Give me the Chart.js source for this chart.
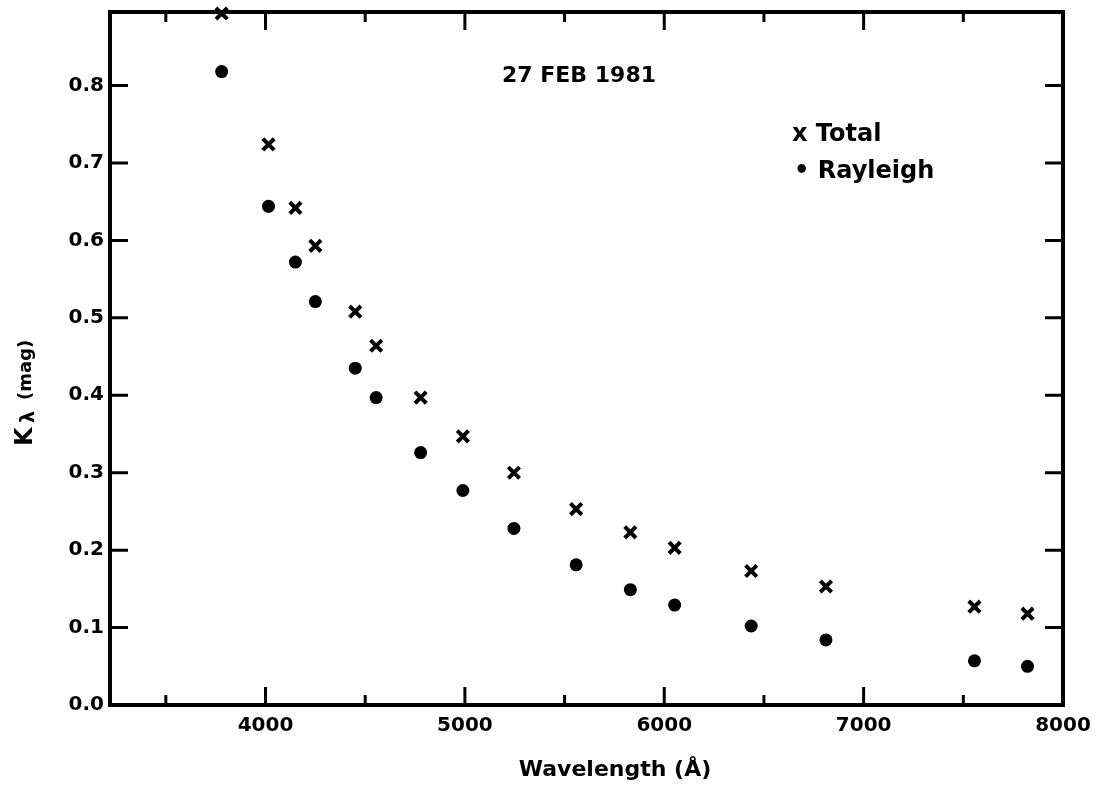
<!DOCTYPE html>
<html>
<head>
<meta charset="utf-8">
<title>Extinction coefficients - 27 Feb 1981</title>
<script src="https://cdn.jsdelivr.net/npm/chart.js@4.4.0/dist/chart.umd.min.js"></script>
<style>
  html, body { margin: 0; padding: 0; background: #fff; }
  #extinctionChart { display: block; }
</style>
</head>
<body>
<canvas id="extinctionChart" width="1097" height="789"></canvas>
<script>
// wavelengths in Angstrom
const wavelengths = [3780, 4015, 4150, 4250, 4450, 4555, 4778, 4990, 5246, 5558, 5830, 6052, 6436, 6811, 7556, 7822];
// extinction K (mag)
const totalK    = [0.893, 0.724, 0.642, 0.593, 0.508, 0.464, 0.397, 0.347, 0.300, 0.253, 0.223, 0.203, 0.173, 0.153, 0.127, 0.118];
const rayleighK = [0.818, 0.644, 0.572, 0.521, 0.435, 0.397, 0.326, 0.277, 0.228, 0.181, 0.149, 0.129, 0.102, 0.084, 0.057, 0.050];

const xTickValues  = [4000, 5000, 6000, 7000, 8000];
const xMinorTicks  = [3500, 4500, 5500, 6500, 7500];
const yTickValues  = [0, 0.1, 0.2, 0.3, 0.4, 0.5, 0.6, 0.7, 0.8];

const FONT = '"DejaVu Sans", sans-serif';

const toPoints = (ys) => wavelengths.map((w, i) => ({ x: w, y: ys[i] }));

// frame, inward ticks and the text labels drawn on top
const framePlugin = {
  id: 'frame',
  afterDraw(chart) {
    const { ctx, chartArea: a, scales: { x, y } } = chart;
    ctx.save();
    ctx.strokeStyle = '#000';
    ctx.fillStyle = '#000';

    ctx.lineWidth = 4;
    ctx.strokeRect(a.left, a.top, a.right - a.left, a.bottom - a.top);

    ctx.lineWidth = 3;
    ctx.beginPath();
    const xTick = (v, len) => {
      const px = x.getPixelForValue(v);
      if (px >= a.right - 3) return;
      ctx.moveTo(px, a.bottom); ctx.lineTo(px, a.bottom - len);
      ctx.moveTo(px, a.top);    ctx.lineTo(px, a.top + len);
    };
    xTickValues.forEach(v => xTick(v, 18));
    xMinorTicks.forEach(v => xTick(v, 10));
    yTickValues.forEach(v => {
      const py = y.getPixelForValue(v);
      if (py >= a.bottom - 3) return;
      ctx.moveTo(a.left, py);  ctx.lineTo(a.left + 18, py);
      ctx.moveTo(a.right, py); ctx.lineTo(a.right - 18, py);
    });
    ctx.stroke();

    // date label
    ctx.textAlign = 'center';
    ctx.textBaseline = 'middle';
    ctx.font = 'bold 22px ' + FONT;
    ctx.fillText('27 FEB 1981', 579, 76);

    // x axis title
    ctx.fillText('Wavelength (\u00c5)', 615, 770);

    // legend
    ctx.textAlign = 'left';
    ctx.font = 'bold 24px ' + FONT;
    ctx.fillText('x Total', 792, 135);
    ctx.fillText('\u2022 Rayleigh', 794, 172);

    // y axis title, rotated
    ctx.translate(24, 390);
    ctx.rotate(-Math.PI / 2);
    ctx.textBaseline = 'alphabetic';
    ctx.font = 'bold 24px ' + FONT;
    ctx.fillText('K', -56, 8);
    ctx.font = 'bold 19px ' + FONT;
    ctx.fillText('\u03bb', -33, 10);
    ctx.font = 'bold 18px ' + FONT;
    ctx.fillText('(mag)', -10, 7);
    ctx.restore();
  }
};

const chart = new Chart(document.getElementById('extinctionChart'), {
  type: 'scatter',
  data: {
    datasets: [
      {
        label: 'Total',
        data: toPoints(totalK),
        pointStyle: 'crossRot',
        pointRadius: 8,
        borderWidth: 4,
        borderColor: '#000',
        backgroundColor: '#000',
        clip: false
      },
      {
        label: 'Rayleigh',
        data: toPoints(rayleighK),
        pointStyle: 'circle',
        pointRadius: 6.5,
        borderWidth: 0,
        backgroundColor: '#000',
        clip: false
      }
    ]
  },
  options: {
    responsive: false,
    animation: false,
    layout: { padding: { left: 65, right: 34, top: 12, bottom: 54 } },
    plugins: {
      legend: { display: false },
      tooltip: { enabled: false }
    },
    scales: {
      x: {
        type: 'linear',
        min: 3220,
        max: 8000,
        grid: { display: false, drawTicks: false },
        border: { display: false },
        afterBuildTicks: (scale) => { scale.ticks = xTickValues.map(v => ({ value: v })); },
        afterFit: (scale) => {
          scale.height = 30;
          scale.paddingLeft = 0;
          scale.paddingRight = 0;
        },
        ticks: {
          padding: 9,
          color: '#000',
          font: { family: FONT, size: 20, weight: 'bold' },
          callback: (v) => String(v)
        }
      },
      y: {
        min: 0,
        max: 0.895,
        grid: { display: false, drawTicks: false },
        border: { display: false },
        afterBuildTicks: (scale) => { scale.ticks = yTickValues.map(v => ({ value: v })); },
        afterFit: (scale) => {
          scale.width = 45;
          scale.paddingTop = 0;
          scale.paddingBottom = 0;
        },
        ticks: {
          padding: 6,
          color: '#000',
          font: { family: FONT, size: 20, weight: 'bold' },
          callback: (v) => Number(v).toFixed(1)
        }
      }
    }
  },
  plugins: [framePlugin]
});
</script>
</body>
</html>
